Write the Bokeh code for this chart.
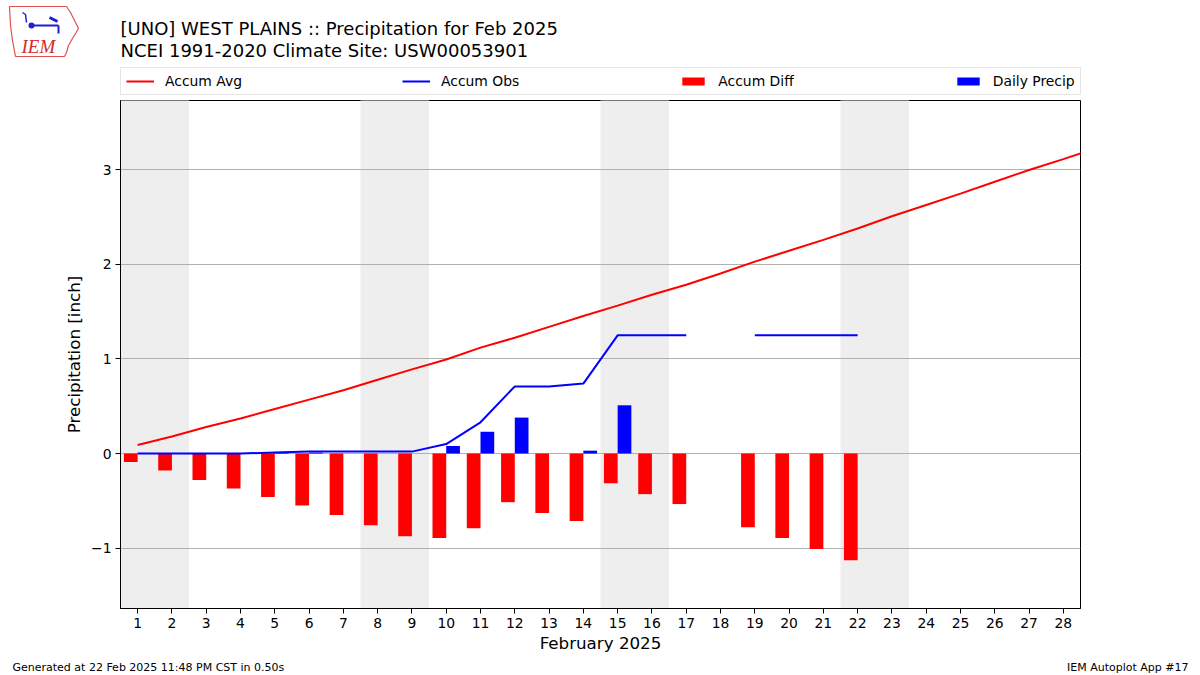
from bokeh.plotting import figure
from bokeh.layouts import column, row
from bokeh.models import Legend, LegendItem, Label, ColumnDataSource, FixedTicker, Range1d
from bokeh.embed import file_html
from bokeh.resources import INLINE

nan = float("nan")

# ---- data ----
days = list(range(1, 29))
avg_days = list(range(1, 30))
accum_avg = [0.09, 0.18, 0.28, 0.37, 0.47, 0.57, 0.67, 0.78, 0.89, 0.995,
             1.12, 1.225, 1.34, 1.455, 1.565, 1.68, 1.785, 1.905, 2.03, 2.145,
             2.26, 2.38, 2.51, 2.63, 2.75, 2.875, 3.0, 3.115, 3.235]
accum_obs = [0.0, 0.0, 0.0, 0.0, 0.01, 0.02, 0.02, 0.02, 0.02, 0.10,
             0.33, 0.71, 0.71, 0.74, 1.25, 1.25, 1.25, nan, 1.25, 1.25,
             1.25, 1.25, nan, nan, nan, nan, nan, nan]
accum_diff = [-0.09, -0.18, -0.28, -0.37, -0.46, -0.55, -0.65, -0.76, -0.875, -0.895,
              -0.79, -0.515, -0.63, -0.715, -0.315, -0.43, -0.535, nan, -0.78, -0.895,
              -1.01, -1.13, nan, nan, nan, nan, nan, nan]
daily_precip = [0.0, 0.0, 0.0, 0.0, 0.01, 0.01, 0.0, 0.0, 0.0, 0.08,
                0.23, 0.38, 0.0, 0.03, 0.51, 0.0, 0.0, nan, 0.0, 0.0,
                0.0, 0.0, nan, nan, nan, nan, nan, nan]
weekend_start = [1, 8, 15, 22]
y_ticks = [-1, 0, 1, 2, 3]
y_tick_labels = ["\u22121", "0", "1", "2", "3"]
x_tick_labels = [str(d) for d in days]
legend_labels = ["Accum Avg", "Accum Obs", "Accum Diff", "Daily Precip"]

title1 = "[UNO] WEST PLAINS :: Precipitation for Feb 2025"
title2 = "NCEI 1991-2020 Climate Site: USW00053901"
x_label = "February 2025"
y_label = "Precipitation [inch]"
footer_left = "Generated at 22 Feb 2025 11:48 PM CST in 0.50s"
footer_right = "IEM Autoplot App #17"

FONT = "DejaVu Sans"
RED, BLUE = "#ff0000", "#0000ff"
W = 1200
HH, HF = 98, 16           # header / footer heights
HM = 675 - HH - HF        # main figure height


def blank(height):
    f = figure(width=W, height=height, output_backend="svg", toolbar_location=None,
               x_range=Range1d(0, W), y_range=Range1d(0, height),
               x_axis_type=None, y_axis_type=None, min_border=0,
               outline_line_color=None, background_fill_color="white",
               border_fill_color="white")
    f.xgrid.visible = False
    f.ygrid.visible = False
    return f


def lab(f, text, x, y, size, align="left", baseline="alphabetic", font=FONT,
        color="black", style="normal"):
    f.add_layout(Label(x=x, y=y, x_units="screen", y_units="screen", text=text,
                       text_font=font, text_font_size=size, text_align=align,
                       text_baseline=baseline, text_color=color, text_font_style=style))


# ---- header: logo, titles, legend ----
h = blank(HH)
# logo (decoration, page pixel coordinates -> header coordinates)
logo_x = [9, 66, 70, 74, 78, 72, 68, 66, 64, 15, 12, 10]
logo_y = [6, 6, 12, 20, 28, 38, 45, 52, 56, 56, 40, 25]
h.patch(x=logo_x, y=[HH - v for v in logo_y], fill_color=None,
        line_color="#e05050", line_width=1.2)
h.line(x=[31, 58], y=[HH - 25, HH - 25], line_color="#2020d0", line_width=2)
h.line(x=[58, 58], y=[HH - 25, HH - 33], line_color="#2020d0", line_width=2)
h.line(x=[49, 57], y=[HH - 17, HH - 21], line_color="#2020d0", line_width=3)
h.line(x=[22, 25, 26], y=[HH - 12, HH - 14, HH - 22], line_color="#2020d0", line_width=1.5)
h.scatter(x=[31], y=[HH - 25], size=6, fill_color="#2020d0", line_color=None)
lab(h, "IEM", 21, HH - 52 + 6, "19px", font="Liberation Serif", color="#d42a2a", style="italic")

lab(h, title1, 120, HH - 34 + 6.5, "18px")
lab(h, title2, 120, HH - 56.5 + 6.5, "18px")

e = ColumnDataSource(dict(x=[-1000], y=[-1000]))
d1 = h.line(x="x", y="y", source=e, line_color=RED, line_width=2)
d2 = h.line(x="x", y="y", source=e, line_color=BLUE, line_width=2)
d3 = h.vbar(x="x", top="y", width=1, source=e, fill_color=RED, line_color=None)
d4 = h.vbar(x="x", top="y", width=1, source=e, fill_color=BLUE, line_color=None)
legend = Legend(items=[LegendItem(label=l, renderers=[r])
                       for l, r in zip(legend_labels, [d1, d2, d3, d4])],
                location=(120, HH - 95), orientation="horizontal",
                glyph_width=28, glyph_height=10, label_standoff=11,
                spacing=160, padding=5, margin=0, label_height=15,
                label_text_font=FONT, label_text_font_size="13.9px",
                label_text_color="black",
                border_line_color="#cccccc", border_line_width=1,
                background_fill_alpha=0.8)
h.add_layout(legend)

# ---- main chart ----
p = figure(width=W, height=HM, output_backend="svg", toolbar_location=None,
           x_range=Range1d(0.5, 28.5), y_range=Range1d(-1.64, 3.735),
           min_border_left=120, min_border_right=120, min_border_top=100 - HH,
           min_border_bottom=HH + HM - 608, background_fill_color="white",
           border_fill_color="white")
p.outline_line_color = "black"
p.outline_line_width = 1

ws = ColumnDataSource(dict(left=[d - 0.5 for d in weekend_start],
                           right=[d + 1.5 for d in weekend_start]))
r_shade = p.quad(left="left", right="right", bottom=-100, top=100, source=ws,
                 fill_color="#eeeeee", line_color=None)
r_shade.level = "image"

src = ColumnDataSource(dict(day=days, obs=accum_obs, diff=accum_diff, daily=daily_precip,
                            xd=[d - 0.2 for d in days], xp=[d + 0.2 for d in days]))
asrc = ColumnDataSource(dict(day=avg_days, avg=accum_avg))

p.vbar(x="xd", top="diff", bottom=0, width=0.4, source=src, fill_color=RED, line_color=None)
p.vbar(x="xp", top="daily", bottom=0, width=0.4, source=src, fill_color=BLUE, line_color=None)
p.line(x="day", y="avg", source=asrc, line_color=RED, line_width=2)
p.line(x="day", y="obs", source=src, line_color=BLUE, line_width=2)

p.xgrid.visible = False
p.ygrid.grid_line_color = "#b0b0b0"
p.ygrid.grid_line_width = 1
p.ygrid.ticker = FixedTicker(ticks=y_ticks)
p.yaxis.ticker = FixedTicker(ticks=y_ticks)
p.yaxis.major_label_overrides = {t: l for t, l in zip(y_ticks, y_tick_labels)}
p.xaxis.ticker = FixedTicker(ticks=days)
p.xaxis.major_label_overrides = {d: l for d, l in zip(days, x_tick_labels)}
for ax in (p.xaxis[0], p.yaxis[0]):
    ax.axis_line_color = "black"
    ax.major_tick_line_color = "black"
    ax.major_tick_out = 5
    ax.major_tick_in = 0
    ax.minor_tick_line_color = None
    ax.major_label_text_font = FONT
    ax.major_label_text_font_size = "13.9px"
    ax.major_label_text_color = "black"
    ax.axis_label_text_font = FONT
    ax.axis_label_text_font_size = "16.7px"
    ax.axis_label_text_font_style = "normal"
    ax.axis_label_text_color = "black"
    ax.major_label_standoff = 4
p.xaxis.axis_label = x_label
p.yaxis.axis_label = y_label
p.xaxis.axis_label_standoff = 2
p.yaxis.axis_label_standoff = 4

# ---- footer ----
ft = blank(HF)
lab(ft, footer_left, 12, 675 - 670 + 3, "11px")
lab(ft, footer_right, 1188, 675 - 670 + 3, "11px", align="right")

layout = column(h, row(p), ft, spacing=0)
open("out.html", "w").write(file_html(layout, INLINE))
